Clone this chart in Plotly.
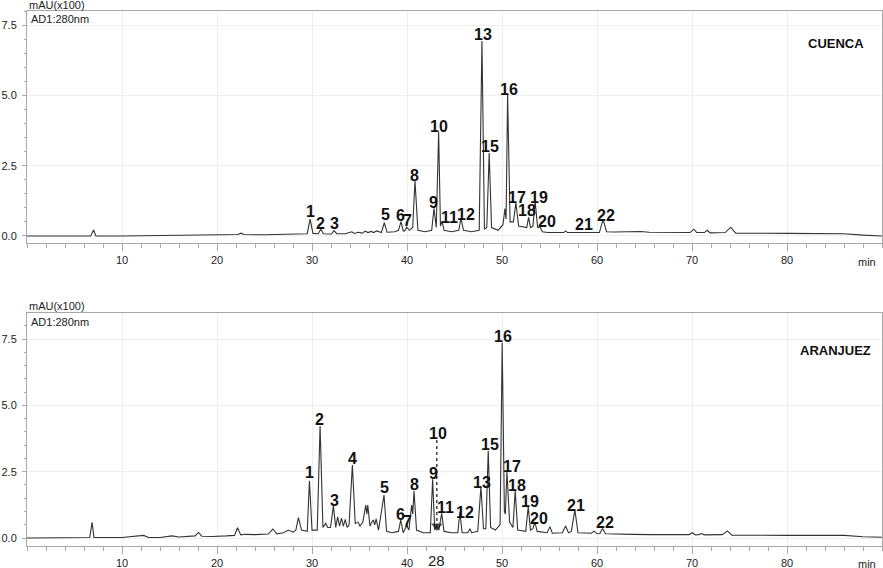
import plotly.graph_objects as go

# ---------------- data ----------------
# CUENCA chromatogram vertices: retention time (min), absorbance (mAU x100)
cuenca_t = [0, 6.7, 7.01, 7.25, 10, 15, 20, 22.2, 22.53, 22.85, 25, 26.5, 28, 29.5, 29.8, 30.1,
            30.65, 30.93, 31.2, 32.05, 32.32, 32.6, 33.5, 34.19, 34.45, 34.9, 35.3, 35.6, 35.9,
            36.2, 36.5, 36.8, 37.3, 37.61, 37.9, 38.7, 39.1, 39.37, 39.6, 39.75, 39.97, 40.25,
            40.6, 40.84, 41.15, 41.9, 42.6, 42.84, 43.08, 43.33, 43.52, 43.68, 43.9, 44.7, 45.45,
            45.68, 45.95, 46.8, 47.6, 47.89, 48.15, 48.4, 48.65, 48.9, 49.6, 50.1, 50.31, 50.43,
            50.59, 50.85, 51.2, 51.46, 51.75, 52.6, 52.8, 53.0, 53.25, 53.49, 53.75, 53.99, 54.25,
            54.8, 56.5, 56.7, 56.9, 57.9, 58.09, 58.3, 60.25, 60.64, 61.0, 61.8, 62.7, 63.7, 64.6,
            65.5, 67.5, 69.8, 70.2, 70.5, 71.3, 71.6, 71.9, 73.5, 74.07, 74.6, 80, 86, 88, 90]
cuenca_v = [0.0, 0.0, 0.21, 0.0, 0.0, 0.02, 0.02, 0.05, 0.1, 0.05, 0.04, 0.06, 0.07, 0.08, 0.60, 0.09,
            0.08, 0.24, 0.08, 0.07, 0.19, 0.08, 0.08, 0.15, 0.09, 0.13, 0.10, 0.17, 0.12,
            0.16, 0.12, 0.18, 0.12, 0.47, 0.13, 0.15, 0.20, 0.51, 0.18, 0.18, 0.31, 0.20,
            0.30, 1.96, 0.20, 0.15, 0.20, 0.98, 0.30, 3.70, 0.35, 0.53, 0.20, 0.15, 0.20,
            0.63, 0.20, 0.15, 0.20, 6.93, 0.25, 0.30, 2.95, 0.30, 0.20, 0.40, 0.97, 0.60,
            5.04, 0.50, 0.50, 1.18, 0.35, 0.30, 0.66, 0.30, 0.35, 1.22, 0.30, 0.33, 0.15,
            0.12, 0.12, 0.18, 0.12, 0.12, 0.14, 0.12, 0.12, 0.59, 0.15, 0.14, 0.15, 0.14, 0.16,
            0.13, 0.12, 0.12, 0.24, 0.12, 0.12, 0.20, 0.11, 0.12, 0.31, 0.10, 0.09, 0.08, 0.03, 0.0]

# ARANJUEZ chromatogram vertices
aranjuez_t = [0, 6.6, 6.85, 7.05, 10, 11.6, 12.27, 12.8, 14, 15.26, 16, 17.7, 18.05, 18.4, 19.5, 21,
              21.85, 22.16, 22.5, 23, 24, 25.4, 25.88, 26.3, 27.0, 27.5, 28.0, 28.3, 28.57, 28.9,
              29.5, 29.73, 30.0, 30.55, 30.85, 31.15, 31.45, 31.65, 31.95, 32.25, 32.5, 32.7,
              32.9, 33.1, 33.3, 33.5, 33.7, 33.9, 34.25, 34.55, 34.85, 35.05, 35.35, 35.66, 35.77,
              35.87, 36.1, 36.3, 36.46, 36.6, 36.75, 37.0, 37.58, 37.85, 38.4, 39.1, 39.34, 39.6,
              39.97, 40.2, 40.49, 40.6, 40.74, 41.0, 41.7, 42.45, 42.70, 42.92, 43.12, 43.35,
              43.65, 43.9, 44.7, 45.35, 45.57, 45.8, 46.4, 46.62, 46.8, 47.45, 47.78, 48.05, 48.3,
              48.55, 48.8, 49.3, 49.8, 50.02, 50.25, 50.35, 50.52, 50.8, 51.15, 51.39, 51.65,
              52.5, 52.76, 53.0, 53.25, 53.46, 53.7, 54.75, 55.04, 55.3, 56.35, 56.69, 57.0, 57.3,
              57.67, 58.0, 59.4, 59.7, 60.0, 60.3, 60.58, 60.9, 61.7, 62.7, 63.7, 65.7, 67.7,
              69.7, 70.04, 70.35, 70.7, 71.0, 71.3, 73.2, 73.72, 74.2, 80, 86, 88, 90]
aranjuez_v = [0.0, 0.02, 0.59, 0.02, 0.02, 0.06, 0.10, 0.02, 0.02, 0.08, 0.04, 0.08, 0.21, 0.07, 0.06, 0.08,
              0.10, 0.39, 0.12, 0.14, 0.13, 0.15, 0.34, 0.16, 0.20, 0.30, 0.22, 0.30, 0.77, 0.30,
              0.25, 2.16, 0.30, 0.30, 4.22, 0.40, 0.55, 0.40, 0.40, 1.21, 0.40, 0.80,
              0.45, 0.75, 0.45, 0.70, 0.40, 0.50, 2.75, 0.55, 0.60, 0.45, 0.60, 1.24, 0.90,
              1.24, 0.45, 0.60, 0.68, 0.50, 0.72, 0.30, 1.62, 0.25, 0.20, 0.25, 0.68, 0.20,
              0.46, 0.30, 1.24, 0.90, 1.77, 0.30, 0.20, 0.20, 2.21, 0.30, 0.45, 0.30,
              0.93, 0.25, 0.20, 0.20, 0.99, 0.20, 0.20, 0.35, 0.20, 0.25, 1.93, 0.35, 0.35,
              3.29, 0.40, 0.30, 0.50, 7.36, 1.00, 0.90, 2.50, 0.60, 0.40, 1.78, 0.30,
              0.25, 1.18, 0.30, 0.35, 0.61, 0.25, 0.20, 0.43, 0.18, 0.20, 0.45, 0.20, 0.25,
              1.06, 0.20, 0.18, 0.26, 0.16, 0.17, 0.36, 0.16, 0.15, 0.16, 0.14, 0.13, 0.13,
              0.13, 0.20, 0.12, 0.13, 0.17, 0.12, 0.13, 0.27, 0.11, 0.10, 0.10, 0.05, 0.03]

# peak numbers and label positions
cuenca_labels = ["1", "2", "3", "5", "6", "7", "8", "9", "10", "11", "12", "13", "15", "16",
                 "17", "18", "19", "20", "21", "22"]
cuenca_label_t = [29.80, 30.93, 32.32, 37.69, 39.34, 40.07, 40.84, 42.77, 43.33, 44.45, 46.2,
                  48.02, 48.73, 50.73, 51.6, 52.59, 53.88, 54.69, 58.61, 60.93]
cuenca_label_v = [0.86, 0.45, 0.45, 0.78, 0.71, 0.54, 2.14, 1.18, 3.89, 0.66, 0.78,
                  7.15, 3.17, 5.22, 1.38, 0.92, 1.36, 0.51, 0.39, 0.71]

aranjuez_labels = ["1", "2", "3", "4", "5", "6", "7", "8", "9", "10", "11", "12", "13", "15",
                   "16", "17", "18", "19", "20", "21", "22"]
aranjuez_label_t = [29.7, 30.75, 32.32, 34.29, 37.58, 39.34, 40.03, 40.77, 42.77, 43.29, 44.07,
                    46.1, 47.85, 48.73, 50.13, 51.01, 51.6, 52.93, 53.91, 57.74, 60.82]
aranjuez_label_v = [2.46, 4.45, 1.43, 3.0, 1.91, 0.89, 0.64, 2.0, 2.44, 3.95, 1.14,
                    0.95, 2.08, 3.51, 7.59, 2.69, 1.97, 1.37, 0.74, 1.24, 0.59]

# dotted pointer for peak 10 in ARANJUEZ and the "28" mark
pointer_t = [43.14, 43.14]
pointer_v = [3.69, 0.45]
mark_text = "28"
mark_t = 43.12

samples = ["CUENCA", "ARANJUEZ"]
x_ticks = [10, 20, 30, 40, 50, 60, 70, 80]
y_ticks = [0.0, 2.5, 5.0, 7.5]

# ---------------- figure ----------------
LINE = "#333333"
AX = "#a8a8a8"
GRID = "#efefef"
FONT = "Liberation Sans, Arial, Helvetica, sans-serif"

fig = go.Figure()
fig.add_trace(go.Scatter(x=cuenca_t, y=cuenca_v, mode="lines", line=dict(color=LINE, width=1.1),
                         xaxis="x", yaxis="y", hoverinfo="skip"))
fig.add_trace(go.Scatter(x=aranjuez_t, y=aranjuez_v, mode="lines", line=dict(color=LINE, width=1.1),
                         xaxis="x2", yaxis="y2", hoverinfo="skip"))
fig.add_trace(go.Scatter(x=pointer_t, y=pointer_v, mode="lines+markers",
                         line=dict(color="#111", width=1.2, dash="dot"),
                         marker=dict(symbol=["circle", "triangle-down"], size=[0, 10], color="#111",
                                     line=dict(width=0)),
                         xaxis="x2", yaxis="y2", hoverinfo="skip"))

def xaxis_style(anchor):
    return dict(
        range=[0, 90], tickvals=x_ticks, ticktext=[str(v) for v in x_ticks],
        ticks="outside", ticklen=7, tickcolor=AX, tickwidth=1,
        minor=dict(dtick=2, tick0=0, ticks="outside", ticklen=4, tickcolor=AX, showgrid=False),
        showgrid=True, gridcolor=GRID, gridwidth=1, zeroline=False,
        showline=True, linecolor=AX, linewidth=1, mirror=True, automargin=False,
        tickfont=dict(family=FONT, size=11, color="#222"), anchor=anchor,
    )

def yaxis_style(anchor, rng, domain):
    return dict(
        range=rng, domain=domain, tickvals=y_ticks, ticktext=["0.0", "2.5", "5.0", "7.5"],
        ticks="outside", ticklen=4, tickcolor=AX, tickwidth=1,
        minor=dict(dtick=0.5, tick0=0, ticks="outside", ticklen=2, tickcolor=AX, showgrid=False),
        showgrid=True, gridcolor=GRID, gridwidth=1, zeroline=False,
        showline=True, linecolor=AX, linewidth=1, mirror=True, automargin=False,
        tickfont=dict(family=FONT, size=11, color="#222"), anchor=anchor,
        ticklabelstandoff=3,
    )

fig.update_layout(
    width=883, height=568,
    margin=dict(l=27, r=1, t=11, b=22, autoexpand=False),
    paper_bgcolor="white", plot_bgcolor="white",
    showlegend=False,
    xaxis=xaxis_style("y"),
    yaxis=yaxis_style("x", [-0.25, 8.0], [0.5664, 1.0]),
    xaxis2=xaxis_style("y2"),
    yaxis2=yaxis_style("x2", [-0.30, 8.48], [0.0, 0.4355]),
    font=dict(family=FONT, color="#111"),
)

LBL = dict(family=FONT, size=16, color="#111", weight="bold")
ann = []
for lab, t, v in zip(cuenca_labels, cuenca_label_t, cuenca_label_v):
    ann.append(dict(x=t, y=v, xref="x", yref="y", text=lab, showarrow=False, font=LBL,
                    xanchor="center", yanchor="middle"))
for lab, t, v in zip(aranjuez_labels, aranjuez_label_t, aranjuez_label_v):
    ann.append(dict(x=t, y=v, xref="x2", yref="y2", text=lab, showarrow=False, font=LBL,
                    xanchor="center", yanchor="middle"))

# sample names
ann.append(dict(x=0.946, y=0.940, xref="paper", yref="paper", text="<b>" + samples[0] + "</b>",
                showarrow=False, font=dict(family=FONT, size=13, color="#111"),
                xanchor="center", yanchor="middle"))
ann.append(dict(x=0.9456, y=0.3645, xref="paper", yref="paper", text="<b>" + samples[1] + "</b>",
                showarrow=False, font=dict(family=FONT, size=13, color="#111"),
                xanchor="center", yanchor="middle"))
# unit / detector labels
for ytop, yin in [(1.0112, 0.985), (0.4486, 0.4187)]:
    ann.append(dict(x=0.0, y=ytop, xref="paper", yref="paper", text="mAU(x100)", showarrow=False,
                    font=dict(family=FONT, size=11, color="#222"), xanchor="left", yanchor="middle"))
    ann.append(dict(x=0.002, y=yin, xref="paper", yref="paper", text="AD1:280nm", showarrow=False,
                    font=dict(family=FONT, size=11, color="#222"), xanchor="left", yanchor="middle"))
# "min" axis unit
ann.append(dict(x=0.9825, y=0.531, xref="paper", yref="paper", text="min", showarrow=False,
                font=dict(family=FONT, size=11, color="#222"), xanchor="center", yanchor="middle"))
ann.append(dict(x=0.983, y=-0.0336, xref="paper", yref="paper", text="min", showarrow=False,
                font=dict(family=FONT, size=11, color="#222"), xanchor="center", yanchor="middle"))
# "28" mark below the lower axis
ann.append(dict(x=mark_t, y=-0.027, xref="x2", yref="paper", text=mark_text, showarrow=False,
                font=dict(family=FONT, size=15, color="#222"), xanchor="center", yanchor="middle"))

fig.update_layout(annotations=ann)
fig.write_html("out.html", config={"displayModeBar": False},
               post_script="document.body.style.margin='0';document.body.style.overflow='hidden';")
